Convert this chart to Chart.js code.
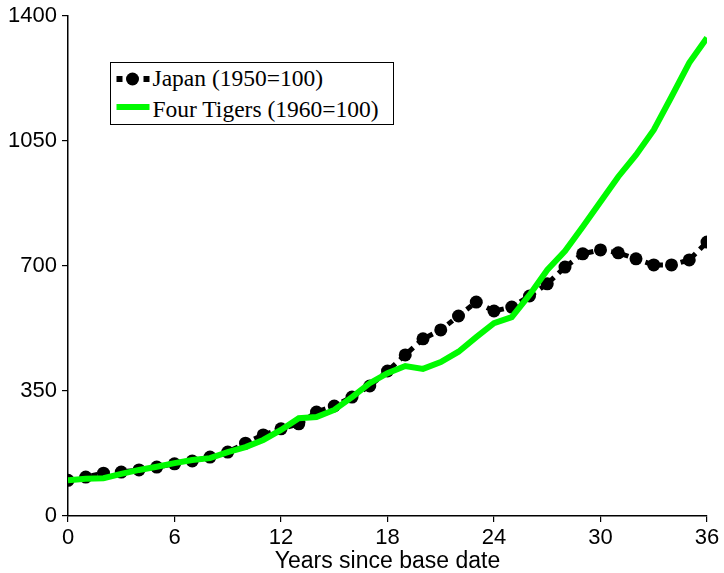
<!DOCTYPE html>
<html>
<head>
<meta charset="utf-8">
<script src="https://cdn.jsdelivr.net/npm/chart.js@4.4.1/dist/chart.umd.min.js"></script>
<style>
    html, body { margin: 0; padding: 0; background: #fff; }
    .wrap { position: relative; width: 724px; height: 573px; }
    .legend {
        position: absolute; left: 110px; top: 62px; width: 282px; height: 61px;
        border: 1.5px solid #000; background: #fff;
        font-family: "Liberation Serif", "Times New Roman", serif; font-size: 23.5px; line-height: 1; color: #000;
    }
    .legend .txt { position: absolute; left: 41.5px; white-space: nowrap; }
    .legend canvas { position: absolute; left: 0; top: 0; }
</style>
</head>
<body>
<div class="wrap">
    <canvas id="lineChart" width="724" height="573"></canvas>
    <div class="legend">
        <canvas id="legendSymbols" width="40" height="61"></canvas>
        <span class="txt" style="top: 4px;">Japan (1950=100)</span>
        <span class="txt" style="top: 35px;">Four Tigers (1960=100)</span>
    </div>
</div>
<script>
const years = [0, 1, 2, 3, 4, 5, 6, 7, 8, 9, 10, 11, 12, 13, 14, 15, 16, 17, 18, 19, 20, 21, 22, 23, 24, 25, 26, 27, 28, 29, 30, 31, 32, 33, 34, 35, 36];
const japan = [100, 109, 120, 123, 129, 137, 146, 154, 165, 179, 204, 227, 244, 258, 291, 308, 333, 364, 406, 451, 496, 521, 560, 599, 574, 585, 616, 650, 697, 734, 745, 737, 720, 703, 703, 717, 767];
const tigers = [100, 104, 106, 118, 129, 138, 148, 157, 162, 179, 193, 213, 241, 274, 277, 297, 333, 372, 400, 420, 412, 431, 460, 501, 540, 557, 619, 689, 742, 810, 880, 950, 1011, 1081, 1174, 1269, 1339];
const yTicks = [0, 350, 700, 1050, 1400];
const xTicks = [0, 6, 12, 18, 24, 30, 36];

const tickFont = { family: '"Liberation Sans", Arial, sans-serif', size: 22 };
const titleFont = { family: '"Liberation Sans", Arial, sans-serif', size: 23 };

const initApp = () => {

    // legend symbols
    const sym = document.getElementById('legendSymbols').getContext('2d');
    sym.fillStyle = '#000';
    sym.fillRect(5.5, 13, 6, 6);
    sym.beginPath();
    sym.arc(21.5, 16, 6.5, 0, Math.PI * 2);
    sym.fill();
    sym.fillRect(32.5, 13, 6, 6);
    sym.fillStyle = '#00fa00';
    sym.fillRect(5.5, 41, 33, 6);

    const ctx = document.getElementById('lineChart');

    new Chart(ctx, {
        type: 'line',
        data: {
            datasets: [
                {
                    label: 'Japan (1950=100)',
                    data: years.map((x, i) => ({ x: x, y: japan[i] })),
                    borderColor: '#000',
                    backgroundColor: '#000',
                    borderWidth: 5,
                    borderDash: [6, 6],
                    pointRadius: 6.5,
                    pointBorderWidth: 0,
                    tension: 0,
                    order: 2
                },
                {
                    label: 'Four Tigers (1960=100)',
                    data: years.map((x, i) => ({ x: x, y: tigers[i] })),
                    borderColor: '#00fa00',
                    borderWidth: 6,
                    pointRadius: 0,
                    tension: 0,
                    order: 1
                }
            ]
        },
        options: {
            responsive: false,
            animation: false,
            layout: { padding: { top: 16, right: 17, left: 0, bottom: 0 } },
            plugins: {
                legend: { display: false },
                tooltip: { enabled: false }
            },
            scales: {
                x: {
                    type: 'linear',
                    min: 0,
                    max: 36,
                    afterBuildTicks: (s) => { s.ticks = xTicks.map(v => ({ value: v })); },
                    afterFit: (s) => { s.height = 57; s.paddingLeft = 0; s.paddingRight = 0; },
                    grid: { drawOnChartArea: false, tickLength: 6, color: '#000', lineWidth: 1.2 },
                    border: { display: true, color: '#000', width: 1.5 },
                    ticks: { color: '#000', font: tickFont, padding: 3, maxRotation: 0, callback: (v) => String(v) },
                    title: { display: true, text: 'Years since base date', color: '#000', font: titleFont, padding: { top: 0, bottom: -2 } }
                },
                y: {
                    min: 0,
                    max: 1400,
                    afterBuildTicks: (s) => { s.ticks = yTicks.map(v => ({ value: v })); },
                    afterFit: (s) => { s.width = 68; s.paddingTop = 0; s.paddingBottom = 0; },
                    grid: { drawOnChartArea: false, tickLength: 6, color: '#000', lineWidth: 1.2 },
                    border: { display: true, color: '#000', width: 1.5 },
                    ticks: { color: '#000', font: tickFont, padding: 5, callback: (v) => String(v) }
                }
            }
        }
    });
}

document.addEventListener('DOMContentLoaded', initApp);
</script>
</body>
</html>
